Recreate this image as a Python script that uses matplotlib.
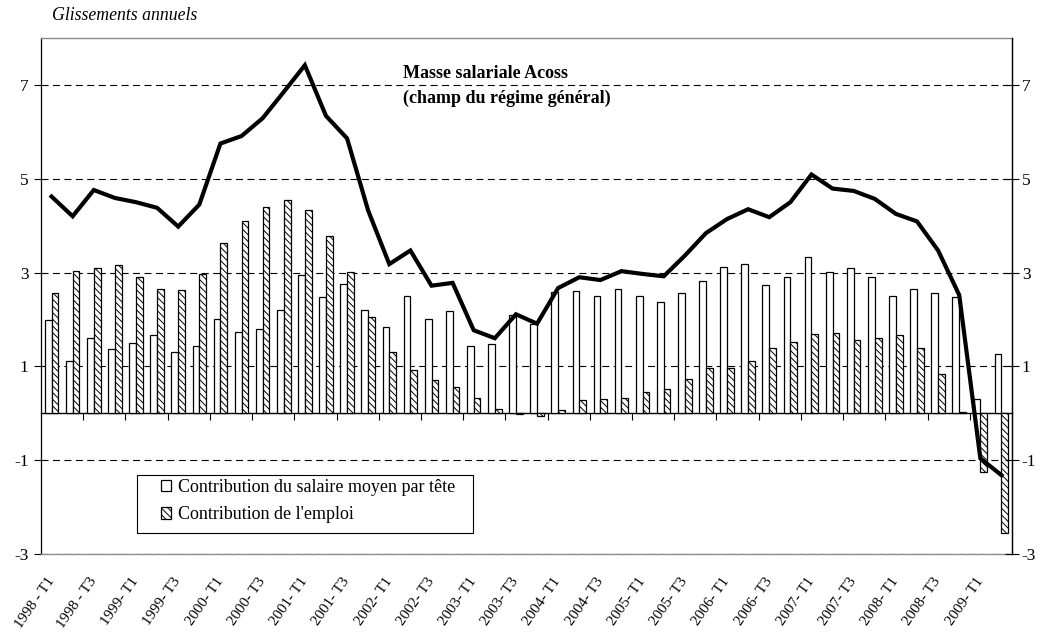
import matplotlib
matplotlib.use("Agg")
import matplotlib.pyplot as plt
from matplotlib.patches import Rectangle
import numpy as np

plt.rcParams['font.family'] = ['Liberation Serif', 'DejaVu Serif']
plt.rcParams['hatch.linewidth'] = 0.7

# --- data -----------------------------------------------------------------
tick_labels = ['1998 - T1', '1998 - T3', '1999- T1', '1999- T3', '2000- T1', '2000- T3',
               '2001- T1', '2001- T3', '2002- T1', '2002- T3', '2003- T1', '2003- T3',
               '2004- T1', '2004- T3', '2005- T1', '2005- T3', '2006- T1', '2006- T3',
               '2007- T1', '2007- T3', '2008- T1', '2008- T3', '2009- T1']

masse_salariale = [4.62, 4.20, 4.76, 4.59, 4.50, 4.38, 3.98, 4.45, 5.75, 5.91, 6.29, 6.85,
                   7.42, 6.34, 5.86, 4.32, 3.18, 3.47, 2.72, 2.78, 1.77, 1.60, 2.11, 1.91,
                   2.67, 2.90, 2.84, 3.03, 2.97, 2.92, 3.36, 3.84, 4.14, 4.35, 4.18, 4.50,
                   5.09, 4.79, 4.74, 4.57, 4.25, 4.09, 3.47, 2.52, -0.96, -1.32]

contrib_salaire = [1.98, 1.11, 1.61, 1.37, 1.50, 1.67, 1.31, 1.43, 2.02, 1.74, 1.80, 2.20,
                   2.95, 2.47, 2.76, 2.21, 1.84, 2.50, 2.00, 2.18, 1.43, 1.48, 2.10, 1.91,
                   2.58, 2.60, 2.51, 2.65, 2.49, 2.37, 2.56, 2.83, 3.11, 3.18, 2.74, 2.91,
                   3.33, 3.01, 3.10, 2.90, 2.51, 2.65, 2.57, 2.48, 0.30, 1.26]

contrib_emploi = [2.57, 3.04, 3.09, 3.17, 2.91, 2.65, 2.62, 2.96, 3.64, 4.10, 4.40, 4.55,
                  4.33, 3.77, 3.01, 2.06, 1.31, 0.92, 0.70, 0.57, 0.33, 0.10, -0.02, -0.06,
                  0.07, 0.28, 0.30, 0.33, 0.45, 0.52, 0.74, 0.96, 0.97, 1.11, 1.39, 1.53,
                  1.69, 1.72, 1.57, 1.61, 1.67, 1.39, 0.84, 0.02, -1.25, -2.56]

legend_labels = ['Contribution du salaire moyen par tête', "Contribution de l'emploi"]
y_ticks = [-3, -1, 1, 3, 5, 7]

# --- figure ---------------------------------------------------------------
W, H = 1043, 634
fig = plt.figure(figsize=(W / 100, H / 100), dpi=100)
ax = fig.add_axes([41 / W, 80 / H, 971 / W, 516 / H])

n = len(masse_salariale)
x = np.arange(n)
bw = 0.32

ax.set_axisbelow(True)
b1 = ax.bar(x - bw / 2, contrib_salaire, width=bw, facecolor='white',
            edgecolor='black', linewidth=0.9, zorder=2)
b2 = ax.bar(x + bw / 2, contrib_emploi, width=bw, facecolor='white',
            edgecolor='black', linewidth=0.9, hatch='\\\\\\\\\\', zorder=2)
ax.plot(x, masse_salariale, color='black', linewidth=3.0, zorder=4,
        solid_joinstyle='miter')

ax.set_xlim(-0.5, n - 0.5)
ax.set_ylim(-3, 8)
ax.set_yticks(y_ticks)
ax.set_yticklabels([str(v) for v in y_ticks], fontsize=12.5)
ax.yaxis.grid(True, color='black', linewidth=0.8, linestyle=(0, (6.3, 4)))
ax.tick_params(axis='y', direction='out', length=5, width=0.8, pad=4)

ax.set_xticks(x[::2])
ax.set_xticklabels(tick_labels, rotation=55, ha='right', va='center',
                   rotation_mode='anchor', fontsize=10.8)
ax.tick_params(axis='x', length=0, pad=18)

for s in ['top', 'bottom']:
    ax.spines[s].set_color('#8c8c8c')
    ax.spines[s].set_linewidth(1.0)
ax.spines['left'].set_color('black')
ax.spines['left'].set_linewidth(0.9)
ax.spines['right'].set_color('black')
ax.spines['right'].set_linewidth(0.9)

# zero axis with category tick marks
zero = ax.secondary_xaxis(3 / 11)
zero.set_xticks(np.arange(1.5, n - 1, 2))
zero.tick_params(direction='out', length=5, width=0.8, labelbottom=False)
zero.spines['bottom'].set_linewidth(1.0)
zero.spines['bottom'].set_color('black')

# right axis
ax2 = ax.twinx()
ax2.set_ylim(-3, 8)
ax2.set_yticks(y_ticks)
ax2.set_yticklabels([str(v) for v in y_ticks], fontsize=12.5)
ax2.tick_params(axis='y', direction='inout', length=10, width=0.8, pad=2)
for s in ['top', 'bottom', 'left']:
    ax2.spines[s].set_visible(False)
ax2.spines['right'].set_color('black')
ax2.spines['right'].set_linewidth(0.9)

# legend (frame drawn separately to match the reference padding)
frame = Rectangle((137 / W, 1 - 533 / H), 336 / W, 58 / H, transform=fig.transFigure,
                  facecolor='white', edgecolor='black', linewidth=0.8, zorder=5)
fig.add_artist(frame)
leg = fig.legend([b1, b2], legend_labels, loc='upper left',
                 bbox_to_anchor=(157 / W, 1 - 475 / H), bbox_transform=fig.transFigure,
                 fontsize=13, frameon=False,
                 handlelength=0.6, handleheight=0.6, handletextpad=0.35,
                 labelspacing=0.6, borderpad=0.2, borderaxespad=0)
leg.set_zorder(6)

fig.text(403 / W, 1 - 73 / H, 'Masse salariale Acoss', fontsize=13,
         fontweight='bold', ha='left', va='center')
fig.text(403 / W, 1 - 98 / H, '(champ du régime général)', fontsize=13,
         fontweight='bold', ha='left', va='center')
fig.text(52 / W, 1 - 15.5 / H, 'Glissements annuels', fontsize=12.8,
         fontstyle='italic', ha='left', va='center')

fig.savefig('out.png', dpi=100)
